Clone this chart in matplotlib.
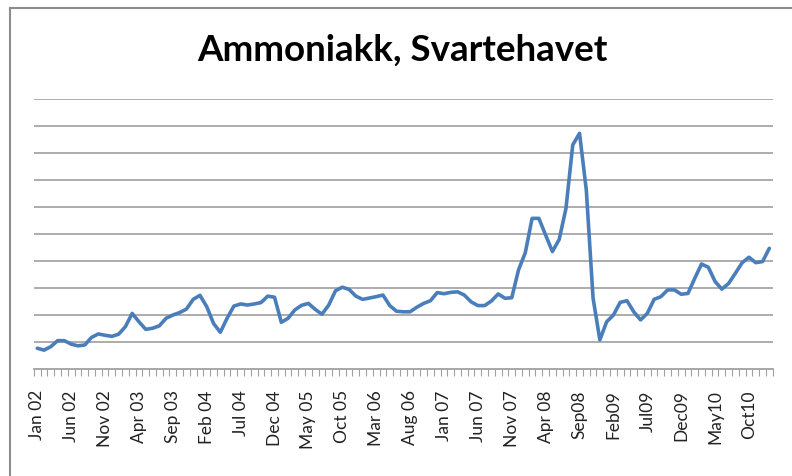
import matplotlib
matplotlib.use("Agg")
import matplotlib.pyplot as plt
from matplotlib.lines import Line2D
import numpy as np

plt.rcParams['font.family'] = ['Lato', 'DejaVu Sans']

# Monthly values Jan 2002 - Jan 2011 (unitless)
values = [
    0.78, 0.71, 0.84, 1.06, 1.06, 0.93, 0.87, 0.90, 1.18, 1.31,
    1.26, 1.22, 1.30, 1.58, 2.07, 1.76, 1.48, 1.52, 1.61, 1.89,
    2.01, 2.10, 2.23, 2.59, 2.74, 2.32, 1.70, 1.37, 1.89, 2.34,
    2.42, 2.38, 2.42, 2.47, 2.71, 2.67, 1.74, 1.89, 2.20, 2.37,
    2.44, 2.22, 2.04, 2.38, 2.91, 3.04, 2.96, 2.71, 2.59, 2.64,
    2.69, 2.75, 2.36, 2.15, 2.13, 2.13, 2.30, 2.44, 2.54, 2.84,
    2.80, 2.85, 2.87, 2.75, 2.50, 2.36, 2.36, 2.53, 2.79, 2.63,
    2.65, 3.68, 4.32, 5.59, 5.59, 4.97, 4.36, 4.81, 5.96, 8.31,
    8.74, 6.64, 2.63, 1.09, 1.76, 2.01, 2.48, 2.54, 2.13, 1.83,
    2.07, 2.59, 2.69, 2.94, 2.94, 2.78, 2.81, 3.37, 3.90, 3.78,
    3.25, 2.97, 3.18, 3.56, 3.95, 4.15, 3.95, 3.99, 4.48,
]

tick_labels = [
    "Jan 02", "Jun 02", "Nov 02", "Apr 03", "Sep 03", "Feb 04", "Jul 04",
    "Dec 04", "May 05", "Oct 05", "Mar 06", "Aug 06", "Jan 07", "Jun 07",
    "Nov 07", "Apr 08", "Sep08", "Feb09", "Jul09", "Dec09", "May10", "Oct10",
]
label_step = 5
title = "Ammoniakk, Svartehavet"

W, H = 792, 476
fig = plt.figure(figsize=(W / 100, H / 100), dpi=100)
fig.patch.set_facecolor('white')

left, right = 33.9 / W, 772.7 / W
bottom, top = 1 - 369.3 / H, 1 - 99.3 / H
ax = fig.add_axes([left, bottom, right - left, top - bottom])

n = len(values)
x = np.arange(n)
ax.plot(x, values, color='#4A7EBB', linewidth=2.6, solid_joinstyle='round',
        solid_capstyle='round', zorder=3)

ax.set_xlim(-0.5, n - 0.5)
ax.set_ylim(0, 10)
ax.set_yticks(np.arange(1, 11))
ax.yaxis.grid(True, color='#A6A6A6', linewidth=1.3)
ax.set_axisbelow(True)
ax.tick_params(axis='y', left=False, labelleft=False)

for s in ['top', 'right', 'left']:
    ax.spines[s].set_visible(False)
ax.spines['bottom'].set_color('#A0A0A0')
ax.spines['bottom'].set_linewidth(1.3)

ax.set_xticks(np.arange(-0.5, n, 1.0), minor=True)
ax.set_xticks(np.arange(0, len(tick_labels) * label_step, label_step))
ax.set_xticklabels(tick_labels, rotation=90, fontsize=12.5, color='#222222')
ax.tick_params(axis='x', which='major', length=0, pad=15)
ax.tick_params(axis='x', which='minor', length=5, width=0.8, color='#A0A0A0',
               direction='out')

fig.text(0.508, 1 - 50 / H, title, ha='center', va='center', fontsize=26.5,
         fontweight='bold', color='black')

# chart-area border (left and top visible)
fig.add_artist(Line2D([10 / W, 10 / W], [0, 1 - 8 / H], transform=fig.transFigure,
                      color='#8C8C8C', linewidth=1.5))
fig.add_artist(Line2D([10 / W, 1], [1 - 8 / H, 1 - 8 / H], transform=fig.transFigure,
                      color='#8C8C8C', linewidth=1.5))

fig.savefig('out.png', dpi=100, facecolor='white')
